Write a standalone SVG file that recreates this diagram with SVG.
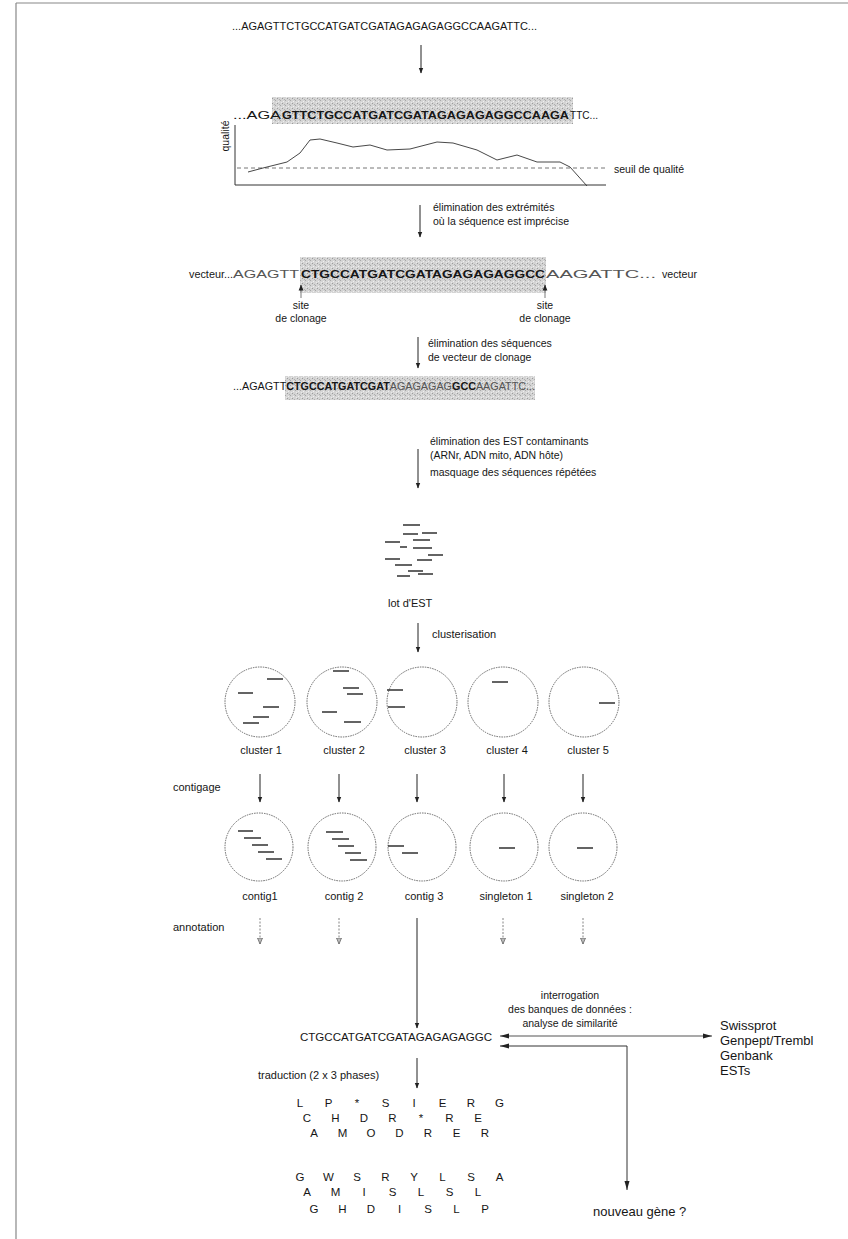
<svg xmlns="http://www.w3.org/2000/svg" width="848" height="1239" viewBox="0 0 848 1239">
<style>
text{font-family:"Liberation Sans",Arial,Helvetica,sans-serif;fill:#161616}
.s{font-size:11px}
.b{font-weight:bold}
.g{fill:#555}
.l{font-size:10.5px}
.db{font-size:13px}
.aa{font-size:11.5px;text-anchor:middle}
.c{text-anchor:middle}
.ar{stroke:#222;stroke-width:1;fill:none}
.da{stroke:#777;stroke-width:0.9;stroke-dasharray:2 1.5;fill:none}
.circ{fill:none;stroke:#666;stroke-width:1;stroke-dasharray:1.5 1}
.est{stroke:#222;stroke-width:1.4}
.shade{fill:url(#stip)}
</style>
<defs>
<pattern id="stip" width="5" height="5" patternUnits="userSpaceOnUse">
<rect width="5" height="5" fill="#d4d4d4"/>
<rect x="0" y="0" width="1" height="1" fill="#a8a8a8"/>
<rect x="2" y="3" width="1" height="1" fill="#9c9c9c"/>
<rect x="3" y="1" width="1" height="1" fill="#f0f0f0"/>
<rect x="4" y="4" width="1" height="1" fill="#b0b0b0"/>
<rect x="1" y="2" width="1" height="1" fill="#eaeaea"/>
</pattern>
<marker id="ah" markerWidth="6" markerHeight="10" refX="5.5" refY="3" orient="auto" markerUnits="userSpaceOnUse" viewBox="0 0 6 6">
<path d="M0,0.6 L6,3 L0,5.4 z" fill="#222"/>
</marker>
<marker id="ahs" markerWidth="9" markerHeight="6" refX="9" refY="3" orient="auto-start-reverse" markerUnits="userSpaceOnUse">
<path d="M0,0.5 L9,3 L0,5.5 z" fill="#222"/>
</marker>
<marker id="ahd" markerWidth="6" markerHeight="6" refX="6" refY="3" orient="auto" markerUnits="userSpaceOnUse">
<path d="M0,0.5 L6,3 L0,5.5 z" fill="#bbb" stroke="#666" stroke-width="0.8"/>
</marker>
</defs>

<g id="frame" stroke="#888" stroke-width="1.2" fill="none">
<line x1="16" y1="3" x2="848" y2="3"/>
<line x1="16" y1="3" x2="16" y2="1239"/>
</g>

<g id="seq1">
<text class="s" x="232" y="30" textLength="305" lengthAdjust="spacingAndGlyphs" font-size="11.5">...AGAGTTCTGCCATGATCGATAGAGAGAGGCCAAGATTC...</text>
</g>

<g id="seq2">
<rect class="shade" x="272" y="97" width="301" height="27"/>
<text class="s" x="233" y="119" textLength="48" lengthAdjust="spacingAndGlyphs">...AGA</text>
<text class="s b" x="282" y="119" textLength="287" lengthAdjust="spacingAndGlyphs">GTTCTGCCATGATCGATAGAGAGAGGCCAAGA</text>
<text class="s" x="570" y="119" textLength="28" lengthAdjust="spacingAndGlyphs">TTC...</text>
</g>

<g id="quality-plot">
<text class="l" transform="translate(229,136) rotate(-90)" text-anchor="middle" font-size="9.5">qualité</text>
<polyline points="235,125 235,185 606,185" fill="none" stroke="#333" stroke-width="1"/>
<line x1="237" y1="168" x2="607" y2="168" stroke="#666" stroke-width="0.9" stroke-dasharray="4 3"/>
<polyline points="248,172 263,168 287,162 300,153 310,140 320,139 337,143 353,147 370,145 387,150 410,149 437,142 453,143 477,150 497,160 517,155 537,162 560,162 570,167 587,186" fill="none" stroke="#333" stroke-width="0.9" stroke-linejoin="round"/>
<text class="l" x="614" y="173" font-size="11">seuil de qualité</text>
</g>

<g id="step-trim">
<text class="l" x="433" y="211">élimination des extrémités</text>
<text class="l" x="433" y="225">où la séquence est imprécise</text>
</g>

<g id="seq3">
<rect class="shade" x="300" y="257" width="246" height="36"/>
<text class="l" x="189" y="278" textLength="44" lengthAdjust="spacingAndGlyphs">vecteur...</text>
<text class="s g" x="233" y="278" textLength="66" lengthAdjust="spacingAndGlyphs">AGAGTT</text>
<text class="s b" x="301" y="278" textLength="244" lengthAdjust="spacingAndGlyphs">CTGCCATGATCGATAGAGAGAGGCC</text>
<text class="s g" x="546" y="278" textLength="110" lengthAdjust="spacingAndGlyphs">AAGATTC...</text>
<text class="l" x="662" y="278" textLength="35" lengthAdjust="spacingAndGlyphs">vecteur</text>
<text class="l c" x="301" y="309">site</text>
<text class="l c" x="301" y="322">de clonage</text>
<text class="l c" x="545" y="309">site</text>
<text class="l c" x="545" y="322">de clonage</text>
</g>

<g id="step-vector">
<text class="l" x="428" y="347">élimination des séquences</text>
<text class="l" x="428" y="361">de vecteur de clonage</text>
</g>

<g id="seq4">
<rect class="shade" x="285" y="376" width="250" height="24"/>
<text class="s" x="233" y="390" textLength="302" lengthAdjust="spacingAndGlyphs">...AGAGTT<tspan class="b">CTGCCATGATCGAT</tspan><tspan class="g">AGAGAGAG</tspan><tspan class="b">GCC</tspan><tspan class="g">AAGATTC...</tspan></text>
</g>

<g id="step-filter">
<text class="l" x="430" y="445">élimination des EST contaminants</text>
<text class="l" x="430" y="459">(ARNr, ADN mito, ADN hôte)</text>
<text class="l" x="430" y="476">masquage des séquences répétées</text>
</g>

<g id="lot-est">
<g class="est">
<line x1="403" y1="525" x2="420" y2="525"/>
<line x1="403" y1="534" x2="418" y2="534"/>
<line x1="422" y1="533" x2="437" y2="533"/>
<line x1="385" y1="542" x2="400" y2="542"/>
<line x1="413" y1="540" x2="430" y2="540"/>
<line x1="400" y1="547" x2="407" y2="547"/>
<line x1="413" y1="548" x2="432" y2="548"/>
<line x1="428" y1="555" x2="443" y2="555"/>
<line x1="385" y1="559" x2="400" y2="559"/>
<line x1="417" y1="560" x2="432" y2="560"/>
<line x1="395" y1="565" x2="412" y2="565"/>
<line x1="408" y1="571" x2="423" y2="571"/>
<line x1="418" y1="574" x2="433" y2="574"/>
<line x1="397" y1="576" x2="410" y2="576"/>
</g>
<text class="s" x="388" y="607">lot d'EST</text>
</g>

<g id="step-cluster">
<text class="s" x="432" y="638">clusterisation</text>
</g>

<g id="cluster1">
<circle class="circ" cx="260" cy="702" r="35"/>
<g class="est"><line x1="267" y1="679" x2="283" y2="679"/><line x1="238" y1="693" x2="253" y2="693"/><line x1="263" y1="707" x2="279" y2="707"/><line x1="253" y1="717" x2="269" y2="717"/><line x1="243" y1="723" x2="259" y2="723"/></g>
<text class="s c" x="261" y="754">cluster 1</text>
</g>
<g id="cluster2">
<circle class="circ" cx="342" cy="702" r="35"/>
<g class="est"><line x1="333" y1="671" x2="349" y2="671"/><line x1="343" y1="688" x2="359" y2="688"/><line x1="347" y1="694" x2="363" y2="694"/><line x1="322" y1="712" x2="337" y2="712"/><line x1="344" y1="722" x2="361" y2="722"/></g>
<text class="s c" x="344" y="754">cluster 2</text>
</g>
<g id="cluster3">
<circle class="circ" cx="422" cy="702" r="35"/>
<g class="est"><line x1="387" y1="690" x2="403" y2="690"/><line x1="388" y1="707" x2="405" y2="707"/></g>
<text class="s c" x="425" y="754">cluster 3</text>
</g>
<g id="cluster4">
<circle class="circ" cx="503" cy="702" r="35"/>
<g class="est"><line x1="492" y1="682" x2="508" y2="682"/></g>
<text class="s c" x="507" y="754">cluster 4</text>
</g>
<g id="cluster5">
<circle class="circ" cx="584" cy="702" r="35"/>
<g class="est"><line x1="599" y1="703" x2="615" y2="703"/></g>
<text class="s c" x="588" y="754">cluster 5</text>
</g>

<g id="step-contig">
<text class="s" x="173" y="791">contigage</text>
</g>

<g id="contig1">
<circle class="circ" cx="259" cy="847" r="34"/>
<g class="est"><line x1="238" y1="831" x2="253" y2="831"/><line x1="244" y1="838" x2="261" y2="838"/><line x1="252" y1="845" x2="268" y2="845"/><line x1="258" y1="852" x2="274" y2="852"/><line x1="266" y1="859" x2="282" y2="859"/></g>
<text class="s c" x="260" y="900">contig1</text>
</g>
<g id="contig2">
<circle class="circ" cx="342" cy="847" r="34"/>
<g class="est"><line x1="326" y1="832" x2="343" y2="832"/><line x1="332" y1="839" x2="349" y2="839"/><line x1="338" y1="846" x2="354" y2="846"/><line x1="345" y1="853" x2="361" y2="853"/><line x1="350" y1="860" x2="367" y2="860"/></g>
<text class="s c" x="344" y="900">contig 2</text>
</g>
<g id="contig3">
<circle class="circ" cx="422" cy="847" r="34"/>
<g class="est"><line x1="388" y1="846" x2="404" y2="846"/><line x1="402" y1="853" x2="418" y2="853"/></g>
<text class="s c" x="424" y="900">contig 3</text>
</g>
<g id="singleton1">
<circle class="circ" cx="504" cy="847" r="34"/>
<g class="est"><line x1="499" y1="848" x2="515" y2="848"/></g>
<text class="s c" x="506" y="900">singleton 1</text>
</g>
<g id="singleton2">
<circle class="circ" cx="583" cy="847" r="34"/>
<g class="est"><line x1="577" y1="848" x2="593" y2="848"/></g>
<text class="s c" x="587" y="900">singleton 2</text>
</g>

<g id="step-annotation">
<text class="s" x="173" y="931">annotation</text>
</g>

<g id="query">
<text class="l c" x="570" y="999">interrogation</text>
<text class="l c" x="570" y="1013">des banques de données :</text>
<text class="l c" x="570" y="1027">analyse de similarité</text>
</g>

<g id="databases">
<text class="db" x="720" y="1030">Swissprot</text>
<text class="db" x="720" y="1045">Genpept/Trembl</text>
<text class="db" x="720" y="1060">Genbank</text>
<text class="db" x="720" y="1075">ESTs</text>
</g>

<g id="contig-seq">
<text class="s" x="300" y="1041" textLength="192" lengthAdjust="spacingAndGlyphs">CTGCCATGATCGATAGAGAGAGGC</text>
</g>

<g id="step-translate">
<text class="s" x="258" y="1079">traduction (2 x 3 phases)</text>
</g>

<g id="translation">
<text class="aa" x="300 328.5 357 385.5 414 442.5 471 499.5" y="1107">LP*SIERG</text>
<text class="aa" x="307 335.5 364 392.5 421 449.5 478" y="1122">CHDR*RE</text>
<text class="aa" x="314 342.5 371 399.5 428 456.5 485" y="1137">AMODRER</text>
<text class="aa" x="300 328.5 357 385.5 414 442.5 471 499.5" y="1181">GWSRYLSA</text>
<text class="aa" x="307 335.5 364 392.5 421 449.5 478" y="1196">AMISLSL</text>
<text class="aa" x="314 342.5 371 399.5 428 456.5 485" y="1213">GHDISLP</text>
</g>

<g id="new-gene">
<text class="db" x="593" y="1216">nouveau gène ?</text>
</g>

<g id="connectors">
<line class="ar" x1="421" y1="45" x2="421" y2="73" marker-end="url(#ah)"/>
<line class="ar" x1="420" y1="205" x2="420" y2="237" marker-end="url(#ah)"/>
<line x1="301" y1="298" x2="301" y2="285" stroke="#444" stroke-width="0.7" marker-end="url(#ah)"/>
<line x1="545" y1="298" x2="545" y2="285" stroke="#444" stroke-width="0.7" marker-end="url(#ah)"/>
<line class="ar" x1="418" y1="337" x2="418" y2="368" marker-end="url(#ah)"/>
<line class="ar" x1="418" y1="449" x2="418" y2="488" marker-end="url(#ah)"/>
<line class="ar" x1="418" y1="623" x2="418" y2="652" marker-end="url(#ah)"/>
<line class="ar" x1="260" y1="774" x2="260" y2="802" marker-end="url(#ah)"/>
<line class="ar" x1="339" y1="774" x2="339" y2="802" marker-end="url(#ah)"/>
<line class="ar" x1="417" y1="774" x2="417" y2="802" marker-end="url(#ah)" stroke-width="1.4"/>
<line class="ar" x1="504" y1="774" x2="504" y2="802" marker-end="url(#ah)"/>
<line class="ar" x1="583" y1="774" x2="583" y2="802" marker-end="url(#ah)"/>
<line class="da" x1="260" y1="918" x2="260" y2="944" marker-end="url(#ahd)"/>
<line class="da" x1="339" y1="918" x2="339" y2="944" marker-end="url(#ahd)"/>
<line class="da" x1="503" y1="918" x2="503" y2="944" marker-end="url(#ahd)"/>
<line class="da" x1="583" y1="918" x2="583" y2="944" marker-end="url(#ahd)"/>
<line class="ar" x1="417" y1="918" x2="417" y2="1028" marker-end="url(#ah)"/>
<line x1="500" y1="1036" x2="712" y2="1036" stroke="#555" stroke-width="1.1" marker-start="url(#ahs)" marker-end="url(#ahs)"/>
<polyline points="627,1190 627,1046 500,1046" fill="none" stroke="#333" stroke-width="1" marker-start="url(#ahs)" marker-end="url(#ahs)"/>
<line class="ar" x1="417" y1="1058" x2="417" y2="1088" marker-end="url(#ah)"/>
</g>
</svg>
